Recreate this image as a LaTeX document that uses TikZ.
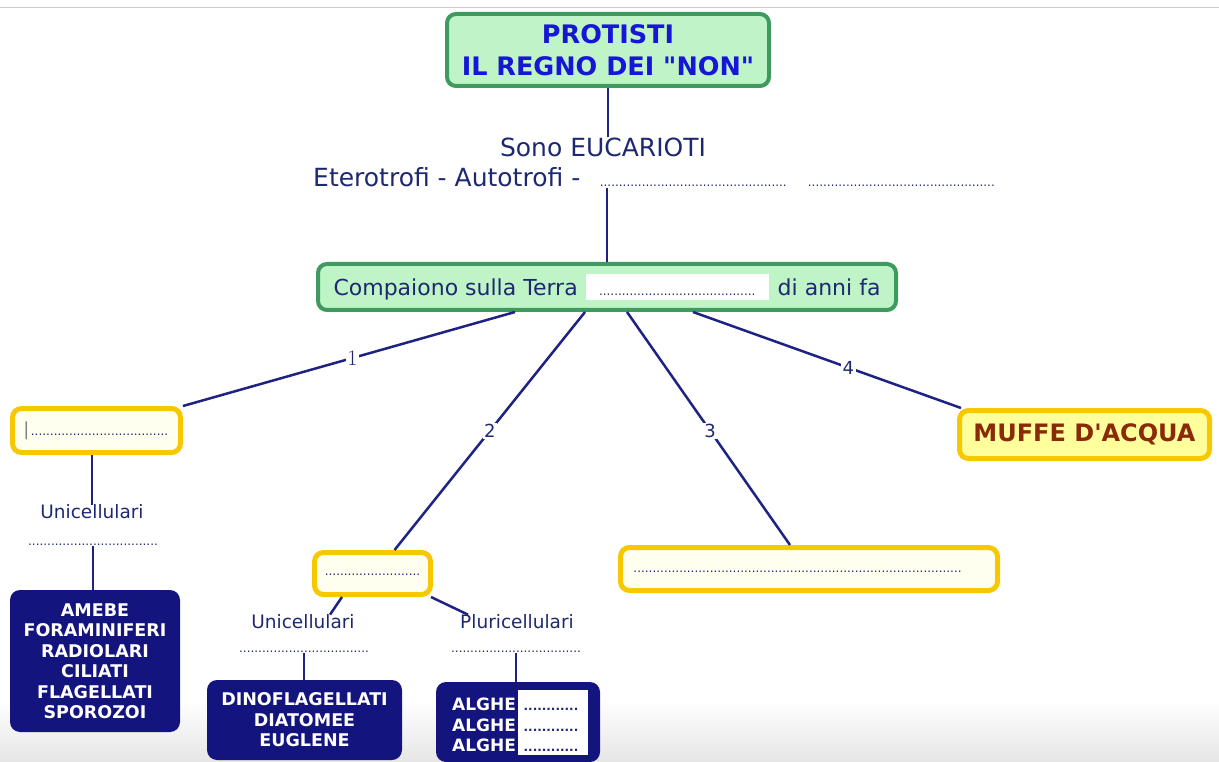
\documentclass[tikz,border=0pt]{standalone}
\usepackage{fontspec}
\newfontfamily\dv{DejaVu Sans}
\definecolor{greenfill}{HTML}{BFF5C6}
\definecolor{greenborder}{HTML}{3E9A5E}
\definecolor{titleblue}{HTML}{1616D6}
\definecolor{navytext}{HTML}{1E2870}
\definecolor{linecol}{HTML}{1D2283}
\definecolor{yellowborder}{HTML}{F7C800}
\definecolor{yellowfill}{HTML}{FFFFF0}
\definecolor{muffefill}{HTML}{FFFF9C}
\definecolor{darkbox}{HTML}{14147E}
\definecolor{muffetext}{HTML}{8A2A08}
\newcommand\dotrow[1]{\hbox to #1{\dv\fontsize{12}{12}\selectfont\cleaders\hbox{.}\hfill}}
\tikzset{
  conn/.style={draw=linecol, line width=2.5pt},
  greenbox/.style={draw=greenborder, fill=greenfill, line width=4pt, rounded corners=9pt, inner sep=0pt},
  yellowbox/.style={draw=yellowborder, fill=yellowfill, line width=5pt, rounded corners=9pt, inner sep=0pt, text=navytext, font=\dv},
  navybox/.style={fill=darkbox, rounded corners=10pt, inner sep=0pt, text=white, font={\dv\bfseries\fontsize{17.5}{20.5}\selectfont}, align=center},
  txt/.style={inner sep=0pt, text=navytext},
  lab/.style={fill=white, inner sep=1.5pt, text=navytext, font={\dv\fontsize{18}{18}\selectfont}},
}
\begin{document}
\begin{tikzpicture}[x=1pt, y=-1pt]
\useasboundingbox (0,0) rectangle (1219,762);
\shade[top color=white, bottom color=black!10] (0,700) rectangle (1219,762);
\draw[black!20, line width=1pt] (0,8) -- (1219,8);

% top
\node[greenbox, minimum width=322, minimum height=72, text=titleblue, align=center,
      font={\dv\bfseries\fontsize{25.5}{32}\selectfont}] (title) at (608,50) {PROTISTI\\IL REGNO DEI "NON"};
\node[txt, font={\dv\fontsize{25}{30}\selectfont}] (sono) at (603,147) {Sono EUCARIOTI};
\node[txt, anchor=base west, font={\dv\fontsize{25}{30}\selectfont}] (etero) at (313,187)
  {Eterotrofi - Autotrofi -\hspace{18pt}\dotrow{190pt}\hspace{19pt}\dotrow{188pt}};
\node[greenbox, minimum width=578, minimum height=46, text=navytext,
      font={\dv\fontsize{22}{26}\selectfont}] (comp) at (607,287)
  {Compaiono sulla Terra\hspace{8pt}{\fboxsep=0pt\colorbox{white}{\hbox to 183pt{\vrule height 21pt depth 5pt width 0pt\hfil\dotrow{160pt}\hfil}}}\hspace{9pt}di anni fa};

% branch boxes
\node[yellowbox, minimum width=168, minimum height=44] (boxA) at (96.5,430.5)
  {\textcolor{gray}{\fontsize{18}{18}\selectfont|}\dotrow{140pt}};
\node[yellowbox, minimum width=116, minimum height=42] (boxB) at (372.5,573.5)
  {\raisebox{-3pt}{\dotrow{98pt}}};
\node[yellowbox, minimum width=377, minimum height=43] (boxC) at (809,569)
  {\hbox to 352pt{\raisebox{-7pt}{\dotrow{329pt}}\hfil}};
\node[yellowbox, fill=muffefill, minimum width=250, minimum height=48, text=muffetext,
      font={\dv\bfseries\fontsize{24}{28}\selectfont}] (muffe) at (1084.5,434.5) {MUFFE D'ACQUA};

% branch 1
\node[txt, font={\dv\fontsize{18.5}{22}\selectfont}] (uniA) at (92,512) {Unicellulari};
\node[txt] (dotsA) at (93,545) {\dotrow{130pt}};
\node[navybox, minimum width=170, minimum height=142] (darkA) at (95,661)
  {AMEBE\\FORAMINIFERI\\RADIOLARI\\CILIATI\\FLAGELLATI\\SPOROZOI};

% branch 2
\node[txt, font={\dv\fontsize{18.5}{22}\selectfont}] (uniB) at (303,622) {Unicellulari};
\node[txt, font={\dv\fontsize{18.5}{22}\selectfont}] (pluri) at (517,622) {Pluricellulari};
\node[txt] (dotsB1) at (304,652) {\dotrow{130pt}};
\node[txt] (dotsB2) at (516,652) {\dotrow{130pt}};
\node[navybox, minimum width=195, minimum height=80] (dino) at (304.5,720)
  {DINOFLAGELLATI\\DIATOMEE\\EUGLENE};
\node[navybox, minimum width=164, minimum height=80] (algh) at (518,722) {};
\node[fill=white, inner sep=0pt, minimum width=70, minimum height=65] (alw) at (553,722.5) {};
\node[txt, text=white, anchor=west, font={\dv\bfseries\fontsize{17}{20.5}\selectfont}] (alghtxt) at (452,727)
  {\begin{tabular}{@{}l@{\hspace{6pt}}l@{}}ALGHE & \textcolor{navytext}{\dotrow{58pt}}\\ALGHE & \textcolor{navytext}{\dotrow{58pt}}\\ALGHE & \textcolor{navytext}{\dotrow{58pt}}\end{tabular}};

% connectors
\draw[conn] (title.south) -- (title.south |- sono.north);
\draw[conn] (etero.south -| comp.north) -- (comp.north);
\draw[conn] ([xshift=-92pt]comp.south) -- (boxA.north east)
  node[lab, pos=0.49, font={\rmfamily\fontsize{22}{22}\selectfont}] {1};
\draw[conn] ([xshift=-22pt]comp.south) -- ([xshift=22pt]boxB.north) node[lab, pos=0.5] {2};
\draw[conn] ([xshift=20pt]comp.south) -- ([xshift=-19pt]boxC.north) node[lab, pos=0.51] {3};
\draw[conn] ([xshift=86pt]comp.south) -- ([xshift=4pt]muffe.north west) node[lab, pos=0.58] {4};
\draw[conn] (uniA.north |- boxA.south) -- (uniA.north);
\draw[conn] (dotsA.south) -- (dotsA.south |- darkA.north);
\draw[conn] ([xshift=30pt]boxB.south west) -- ([xshift=27pt]uniB.north);
\draw[conn] ([xshift=-2pt]boxB.south east) -- ([xshift=-49pt]pluri.north);
\draw[conn] (dotsB1.south) -- (dotsB1.south |- dino.north);
\draw[conn] (dotsB2.south) -- (dotsB2.south |- algh.north);
\end{tikzpicture}
\end{document}
